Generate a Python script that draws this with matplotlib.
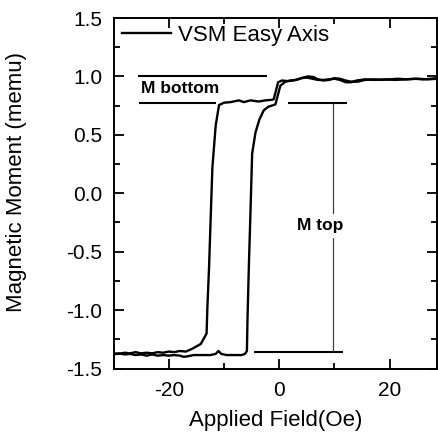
import matplotlib
matplotlib.use("Agg")
import matplotlib.pyplot as plt
from matplotlib.ticker import MultipleLocator

plt.rcParams['font.family'] = ['Liberation Sans', 'DejaVu Sans']
plt.rcParams['axes.unicode_minus'] = False

# Descending branch (field swept from + to -)
desc_h = [28.6, 27.5, 26, 24.5, 23, 21.5, 20, 18.5, 17, 15.5, 14.2, 13, 12, 11, 10, 9, 8, 7,
          6.2, 5.2, 4.3, 3.4, 2.5, 1.5, 0.5, -0.2, -1.0, -1.3, -2.5, -3.7, -5.2, -6.4, -7.3,
          -8.8, -10.0, -10.9, -11.5, -12.1, -12.4, -12.7, -13.0, -13.15, -14.2, -15.7, -16.9,
          -18, -19, -20, -21, -22, -23, -24, -25, -26, -27, -28, -29, -30]
desc_m = [0.985, 0.98, 0.975, 0.98, 0.975, 0.98, 0.975, 0.97, 0.975, 0.97, 0.955, 0.955, 0.965,
          0.98, 0.985, 0.97, 0.965, 0.975, 0.995, 1.0, 0.99, 0.975, 0.965, 0.96, 0.965, 0.95,
          0.805, 0.80, 0.795, 0.785, 0.795, 0.78, 0.795, 0.78, 0.775, 0.755, 0.58, 0.22, -0.20,
          -0.63, -0.97, -1.20, -1.29, -1.33, -1.355, -1.35, -1.36, -1.355, -1.365, -1.36, -1.37,
          -1.365, -1.37, -1.36, -1.37, -1.365, -1.375, -1.37]

# Ascending branch (field swept from - to +)
asc_h = [-30, -29, -28, -27, -26, -25, -24, -23, -22, -21, -20, -19, -18, -17.3, -16.5, -15.5,
         -14, -12.5, -11.5, -11.0, -10.5, -9.5, -8, -6.8, -6.2, -5.85, -5.75, -5.5, -5.2, -4.9,
         -4.3, -3.6, -2.8, -2.0, -0.7, 0.2, 1.1, 2.0, 3, 4, 5, 6, 7, 8, 9, 10, 11, 12, 13, 14,
         15.5, 17, 19, 21, 23, 25, 27, 28.65]
asc_m = [-1.38, -1.37, -1.38, -1.375, -1.385, -1.38, -1.39, -1.38, -1.39, -1.385, -1.39, -1.385,
         -1.39, -1.40, -1.395, -1.385, -1.385, -1.385, -1.375, -1.35, -1.375, -1.385, -1.385,
         -1.385, -1.375, -1.35, -1.09, -0.63, -0.15, 0.34, 0.52, 0.63, 0.71, 0.74, 0.76, 0.92,
         0.955, 0.965, 0.97, 0.985, 0.99, 0.98, 0.97, 0.97, 0.975, 0.98, 0.97, 0.95, 0.95, 0.965,
         0.975, 0.97, 0.975, 0.97, 0.975, 0.98, 0.975, 0.98]

# Guide lines for the annotations
guide_top_level = 1.0
guide_top_x = [-25.6, -2.2]
guide_mid_level = 0.77
guide_mid_left_x = [-25.3, -11.5]
guide_mid_right_x = [1.6, 12.3]
guide_low_level = -1.358
guide_low_x = [-4.6, 11.6]
m_top_x = 9.7

W, H = 439, 440
fig = plt.figure(figsize=(W / 100, H / 100), dpi=100)
left_px, right_px, top_px, bot_px = 113.5, 437.5, 18.0, 368.5
ax = fig.add_axes([left_px / W, 1 - bot_px / H, (right_px - left_px) / W, (bot_px - top_px) / H])

ax.plot(desc_h, desc_m, color='black', lw=1.7, label='VSM Easy Axis')
ax.plot(asc_h, asc_m, color='black', lw=1.7)

ax.hlines(guide_top_level, *guide_top_x, color='black', lw=1.5)
ax.hlines(guide_mid_level, *guide_mid_left_x, color='black', lw=1.5)
ax.hlines(guide_mid_level, *guide_mid_right_x, color='black', lw=1.5)
ax.hlines(guide_low_level, *guide_low_x, color='black', lw=1.5)
ax.vlines(m_top_x, guide_low_level, guide_mid_level, color='#444444', lw=0.9)

ax.text(-25.0, 0.895, 'M bottom', fontsize=12.5, fontweight='bold', ha='left', va='center')
ax.text(7.4, -0.28, 'M top', fontsize=12.5, fontweight='bold', ha='center', va='center',
        bbox=dict(facecolor='white', edgecolor='none', pad=3))

ax.set_xlim(-30, 28.65)
ax.set_ylim(-1.5, 1.5)
ax.xaxis.set_major_locator(MultipleLocator(20))
ax.xaxis.set_minor_locator(MultipleLocator(10))
ax.yaxis.set_major_locator(MultipleLocator(0.5))
ax.yaxis.set_minor_locator(MultipleLocator(0.25))
ax.yaxis.set_major_formatter(plt.FormatStrFormatter('%.1f'))

ax.tick_params(which='both', direction='in', top=True, right=True, width=1.3, labelsize=15)
ax.tick_params(which='major', length=7, pad=8)
ax.tick_params(axis='x', which='major', pad=9)
ax.tick_params(which='minor', length=4.5)
for s in ax.spines.values():
    s.set_linewidth(1.4)

ax.set_xlabel('Applied Field(Oe)', fontsize=16, labelpad=7)
ax.set_ylabel('Magnetic Moment (memu)', fontsize=16)
ax.yaxis.set_label_coords(-0.267, 0.532)

ax.legend(loc='center left', bbox_to_anchor=((121.7 - left_px) / (right_px - left_px),
                                             1 - (35 - top_px) / (bot_px - top_px)),
          frameon=False, fontsize=16, handlelength=2.2, handletextpad=0.35,
          borderpad=0, borderaxespad=0)

fig.savefig('out.png', dpi=100)
